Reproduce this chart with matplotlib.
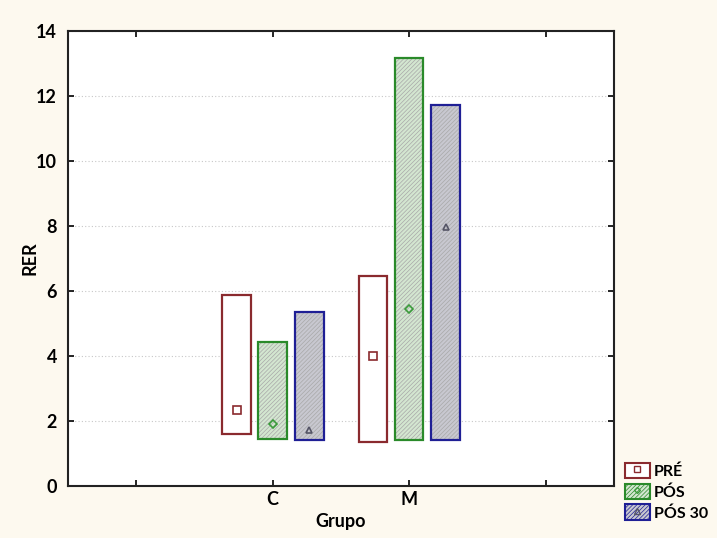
import numpy as np
import matplotlib.pyplot as plt
from matplotlib.patches import Rectangle
from matplotlib.lines import Line2D
from matplotlib.legend_handler import HandlerTuple

plt.rcParams['font.family'] = ['Lato', 'DejaVu Sans']
plt.rcParams['hatch.linewidth'] = 0.5

grupos = ['C', 'M']
series = ['PRÉ', 'PÓS', 'PÓS 30']
pre_min = [1.6, 1.35]
pre_max = [5.87, 6.45]
pre_mid = [2.33, 3.98]
pos_min = [1.43, 1.4]
pos_max = [4.42, 13.15]
pos_mid = [1.91, 5.45]
pos30_min = [1.42, 1.4]
pos30_max = [5.35, 11.72]
pos30_mid = [1.72, 7.96]

mins = [pre_min, pos_min, pos30_min]
maxs = [pre_max, pos_max, pos30_max]
mids = [pre_mid, pos_mid, pos30_mid]
edge = ['#8a2a2e', '#2a8a2a', '#1f1f95']
fill = ['white', '#d3e6d0', '#c8c8d0']
hatch = [None, '////////', '////////']
mk = ['s', 'D', '^']
mks = [6, 4, 5]
mcol = ['#8a2a2e', '#3a9a3a', '#555566']
offs = [-0.265, 0, 0.268]
w = 0.21

fig = plt.figure(figsize=(7.17, 5.38), dpi=100, facecolor='#fdf9ef')
ax = fig.add_axes([0.095, 0.097, 0.761, 0.846])
ax.set_facecolor('white')

x = np.arange(1, len(grupos) + 1)
for i in range(3):
    lo = np.array(mins[i])
    hi = np.array(maxs[i])
    if hatch[i]:
        ax.bar(x + offs[i], hi - lo, w, bottom=lo, color=fill[i],
               edgecolor='#a8a8a8', hatch=hatch[i], linewidth=0, zorder=2)
    else:
        ax.bar(x + offs[i], hi - lo, w, bottom=lo, color=fill[i], linewidth=0, zorder=2)
    ax.bar(x + offs[i], hi - lo, w, bottom=lo, fill=False,
           edgecolor=edge[i], linewidth=1.6, zorder=3)
    ax.plot(x + offs[i], mids[i], mk[i], ms=mks[i], mfc='none',
            mec=mcol[i], mew=1.2, zorder=4)

ax.set_xlim(-0.5, 3.5)
ax.set_ylim(0, 14)
ax.set_xticks([0, 1, 2, 3])
ax.set_xticklabels(['', 'C', 'M', ''])
ax.set_yticks(np.arange(0, 15, 2))
ax.tick_params(direction='in', top=True, right=True, length=4, width=1.2,
               labelsize=13)
ax.tick_params(axis='y', pad=8)
for t in ax.get_xticklabels() + ax.get_yticklabels():
    t.set_fontweight('bold')
ax.yaxis.grid(True, linestyle=(0, (1, 2)), color='#c8c8c8', linewidth=0.8, zorder=0)
ax.set_axisbelow(True)
for s in ax.spines.values():
    s.set_linewidth(1.5)
    s.set_color('#222222')

ax.set_xlabel('Grupo', fontsize=13, fontweight='bold', labelpad=4)
ax.set_ylabel('RER', fontsize=13, fontweight='bold')
ax.yaxis.set_label_coords(-0.055, 0.5)

handles = []
for i in range(3):
    r = Rectangle((0, 0), 1, 1, facecolor=fill[i], edgecolor=edge[i],
                  hatch=hatch[i], linewidth=1.5)
    m = Line2D([], [], marker=mk[i], ms=mks[i] - 1, mfc='none',
               mec=mcol[i], linestyle='none', mew=1)
    handles.append((r, m))
fig.legend(handles, series, handler_map={tuple: HandlerTuple(ndivide=1)},
           loc='upper left', bbox_to_anchor=(0.871, 0.14), frameon=False,
           handlelength=1.6, handleheight=1.1, handletextpad=0.25,
           labelspacing=0.3, borderpad=0, borderaxespad=0,
           prop={'weight': 'bold', 'size': 11.5})

fig.savefig('out.png', dpi=100, facecolor=fig.get_facecolor())
